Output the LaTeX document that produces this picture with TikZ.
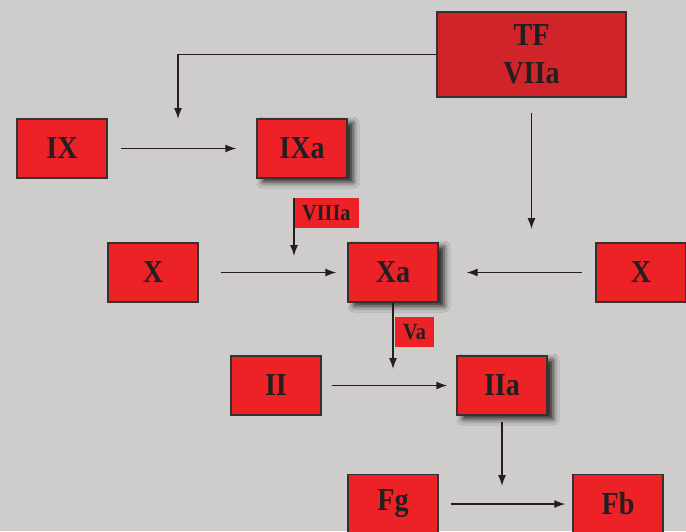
\documentclass[tikz,border=0pt]{standalone}
\usepackage{fontspec}
\setmainfont{Liberation Serif}
\newfontfamily\factorfont[FakeStretch=0.88]{Liberation Serif}
\usetikzlibrary{arrows.meta,shadows.blur}
\definecolor{bggrey}{HTML}{CECDCB}
\definecolor{boxred}{HTML}{EC2227}
\definecolor{tfred}{HTML}{D1232A}
\definecolor{edgegrey}{HTML}{333333}
\definecolor{inkblack}{HTML}{231F20}

\begin{document}
\begin{tikzpicture}[x=1pt, y=-1pt,
  factor/.style={draw=edgegrey, line width=1.4pt, fill=boxred, minimum width=90pt,
    minimum height=59pt, inner sep=0pt, text=inkblack, align=center,
    font=\factorfont\bfseries\fontsize{32}{38}\selectfont},
  active/.style={factor, blur shadow={shadow xshift=6pt, shadow yshift=-4pt,
    shadow blur radius=6pt, shadow opacity=85}},
  cofactor/.style={fill=boxred, inner xsep=8pt, inner ysep=0pt, minimum height=30pt,
    text=inkblack, anchor=west, font=\factorfont\bfseries\fontsize{23}{26}\selectfont},
  arr/.style={-{Latex[length=11pt,width=8pt]}, line width=1.4pt, draw=inkblack}]
  \useasboundingbox[fill=bggrey] (0,0) rectangle (686,531);

  % Define nodes
  \node[factor, fill=tfred, minimum width=189pt, minimum height=85pt] (tf) at (531.5,54.5) {TF\\VIIa};
  \node[factor] (ix) at (62,148.5) {IX};
  \node[active] (ixa) at (302,148.5) {IXa};
  \node[factor] (x) at (153,272.5) {X};
  \node[active] (xa) at (393,272.5) {Xa};
  \node[factor] (xr) at (641,272.5) {X};
  \node[factor] (ii) at (276,385.5) {II};
  \node[active] (iia) at (502,385.5) {IIa};
  \node[factor] (fg) at (393,504) {Fg};
  \node[factor] (fb) at (618,504) {Fb};
  \node[cofactor] (viiia) at (294,213) {VIIIa};
  \node[cofactor] (va) at (395,332) {Va};
  \coordinate (tfIn) at (178,119);
  \coordinate (tfOut) at (531.5,229);
  \coordinate (viiiaIn) at (294,256);
  \coordinate (vaIn) at (393,369);
  \coordinate (iiaOut) at (502,486);

  % Connect the nodes
  \draw[arr] (tf.west) -| (tfIn);
  \draw[arr, shorten <=15pt] (tf) -- (tfOut);
  \draw[arr, shorten <=13pt, shorten >=20pt] (ix) -- (ixa);
  \draw[arr] (viiia.north west) -- (viiiaIn);
  \draw[arr, shorten <=22pt, shorten >=11pt] (x) -- (xa);
  \draw[arr, shorten <=13pt, shorten >=28pt] (xr) -- (xa);
  \draw[arr] (xa) -- (vaIn);
  \draw[arr, shorten <=10pt, shorten >=9pt] (ii) -- (iia);
  \draw[arr, shorten <=6pt] (iia) -- (iiaOut);
  \draw[arr, shorten <=12pt, shorten >=7pt] (fg) -- (fb);
\end{tikzpicture}
\end{document}
